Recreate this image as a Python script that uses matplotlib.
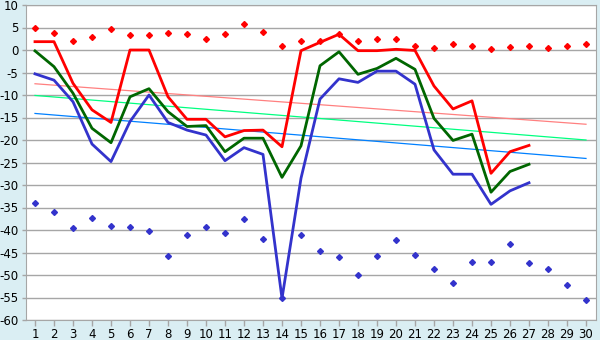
import matplotlib.pyplot as plt
import numpy as np

plt.rcParams['axes.unicode_minus'] = False
plt.rcParams['font.family'] = ['DejaVu Sans']

days = np.arange(1, 31)
days_line = np.arange(1, 28)

# верхние и нижние точки
top_pts = [4.8, 3.7, 2.1, 3.0, 4.6, 3.3, 3.3, 3.7, 3.5, 2.4,
           3.5, 5.7, 3.9, 1.0, 2.1, 1.9, 3.5, 1.9, 2.4, 2.4,
           1.0, 0.4, 1.3, 1.0, 0.15, 0.6, 0.8, 0.4, 1.0, 1.3]
low_pts = [-34.1, -36.1, -39.6, -37.4, -39.0, -39.4, -40.3, -45.8, -41.2, -39.4,
           -40.7, -37.6, -42.1, -55.2, -41.0, -44.7, -46.1, -50.1, -45.8, -42.3,
           -45.6, -48.7, -51.8, -47.0, -47.0, -43.0, -47.4, -48.7, -52.3, -55.6]

# линии
red_line = [1.85, 1.85, -7.4, -13.3, -16.1, 0.0, 0.0, -10.4, -15.4, -15.4,
            -19.3, -17.9, -17.8, -21.5, -0.15, 1.7, 3.5, -0.15, -0.15, 0.15,
            -0.1, -8.0, -13.1, -11.3, -27.4, -22.6, -21.2]
green_line = [-0.2, -3.7, -9.6, -17.4, -20.6, -10.4, -8.6, -13.7, -17.0, -16.8,
              -22.6, -19.6, -19.6, -28.3, -21.3, -3.5, -0.4, -5.4, -4.1, -1.85,
              -4.3, -15.2, -20.1, -18.7, -31.6, -27.0, -25.4]
blue_line = [-5.3, -6.7, -11.5, -20.9, -24.8, -15.9, -10.0, -16.1, -17.8, -18.9,
             -24.6, -21.7, -23.2, -55.2, -28.5, -10.9, -6.4, -7.2, -4.7, -4.7,
             -7.6, -22.2, -27.6, -27.6, -34.3, -31.3, -29.5]

# тренды (значения в начале и конце)
trend_x = [1, 30]
red_trend = [-7.5, -16.5]
green_trend = [-10.1, -20.0]
blue_trend = [-14.1, -24.1]

fig = plt.figure(figsize=(6, 3.4), dpi=100, facecolor='#DAEEF3')
ax = fig.add_axes([25.5 / 600, 20 / 340, 570 / 600, 315 / 340])
ax.set_facecolor('white')

ax.plot(trend_x, red_trend, color='#FF8080', lw=0.9)
ax.plot(trend_x, green_trend, color='#00FF80', lw=0.9)
ax.plot(trend_x, blue_trend, color='#0080FF', lw=0.9)

ax.plot(days_line, red_line, color='#FF0000', lw=2)
ax.plot(days_line, green_line, color='#006600', lw=2)
ax.plot(days_line, blue_line, color='#3333CC', lw=2)

ax.plot(days, top_pts, linestyle='none', marker='D', ms=3, color='#FF0000')
ax.plot(days, low_pts, linestyle='none', marker='D', ms=3, color='#3333CC')

ax.set_xlim(0.5, 30.5)
ax.set_ylim(-60, 10)
ax.set_xticks(days)
ax.set_yticks(np.arange(-60, 11, 5))
ax.yaxis.grid(True, color='#A6A6A6', lw=1)
ax.set_axisbelow(True)
for s in ax.spines.values():
    s.set_color('#A6A6A6')
ax.tick_params(axis='both', labelsize=8.5, colors='#A6A6A6', labelcolor='black',
               length=4, width=1, pad=2)
ax.tick_params(axis='y', length=3)

fig.savefig('out.png', dpi=100, facecolor=fig.get_facecolor())
